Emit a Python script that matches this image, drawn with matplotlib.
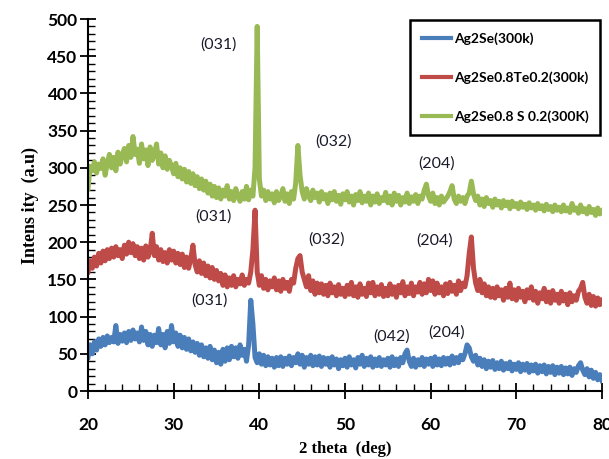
import numpy as np
import matplotlib
matplotlib.use("Agg")
import matplotlib.pyplot as plt
from matplotlib.ticker import MultipleLocator

# ---- data ----
two_theta_start = 20.0
two_theta_step = 0.25

green_vals = [
    272, 302, 296, 308, 293, 305, 299, 312, 290, 306, 318, 300, 314, 296, 321, 305, 318, 326, 308, 330,
    314, 342, 318, 325, 306, 332, 312, 324, 303, 328, 310, 318, 332, 305, 320, 300, 316, 298, 310, 302,
    292, 306, 288, 300, 285, 298, 281, 295, 279, 292, 276, 288, 272, 285, 270, 282, 266, 278, 262, 275,
    260, 273, 258, 270, 262, 276, 258, 268, 256, 272, 262, 255, 268, 258, 275, 257, 270, 262, 300, 490,
    285, 262, 270, 256, 268, 258, 265, 253, 268, 256, 262, 272, 255, 265, 252, 268, 258, 280, 330, 290,
    268, 258, 272, 262, 256, 270, 260, 266, 254, 268, 258, 264, 252, 266, 257, 268, 255, 263, 251, 265,
    257, 268, 254, 262, 250, 264, 256, 268, 253, 262, 255, 266, 250, 262, 254, 265, 252, 260, 256, 267,
    253, 262, 250, 266, 255, 263, 250, 260, 254, 266, 252, 261, 255, 264, 252, 262, 258, 270, 278, 262,
    255, 266, 252, 260, 250, 262, 254, 258, 262, 268, 276, 258, 252, 262, 255, 260, 252, 262, 266, 282,
    265, 256, 262, 250, 258, 248, 260, 252, 256, 247, 258, 250, 255, 246, 256, 249, 254, 245, 255, 248,
    252, 245, 254, 247, 251, 244, 253, 246, 250, 243, 252, 245, 249, 242, 251, 244, 248, 241, 250, 243,
    247, 241, 250, 242, 246, 240, 252, 243, 246, 239, 250, 241, 245, 238, 248, 240, 244, 236, 246, 238,
    242,
]

red_vals = [
    160, 175, 165, 180, 168, 185, 172, 188, 175, 190, 178, 192, 180, 194, 182, 190, 178, 196, 184, 200,
    186, 198, 182, 194, 178, 192, 176, 195, 180, 188, 212, 182, 194, 176, 190, 174, 186, 172, 190, 176,
    188, 172, 185, 170, 184, 166, 180, 165, 178, 196, 170, 160, 175, 158, 172, 155, 168, 152, 166, 150,
    162, 148, 158, 142, 156, 140, 152, 142, 155, 140, 150, 144, 156, 142, 150, 145, 160, 190, 243, 160,
    142, 155, 138, 150, 136, 148, 140, 152, 136, 148, 134, 150, 138, 146, 134, 150, 145, 165, 178, 182,
    160, 150, 140, 155, 135, 148, 130, 145, 132, 144, 130, 142, 128, 145, 132, 140, 128, 143, 130, 138,
    127, 142, 130, 146, 128, 140, 126, 144, 130, 138, 127, 145, 132, 146, 128, 140, 130, 143, 127, 138,
    128, 144, 130, 140, 126, 142, 132, 147, 128, 140, 131, 145, 128, 140, 133, 146, 130, 144, 132, 150,
    135, 148, 130, 145, 132, 140, 128, 144, 131, 146, 134, 142, 130, 148, 135, 145, 140, 155, 185, 207,
    165, 145, 135, 150, 132, 144, 128, 140, 126, 138, 125, 140, 128, 136, 122, 138, 126, 145, 124, 136,
    122, 138, 126, 134, 120, 136, 125, 140, 122, 134, 118, 132, 124, 138, 120, 133, 118, 135, 122, 130,
    118, 134, 121, 130, 116, 132, 120, 128, 122, 134, 138, 146, 126, 118, 130, 115, 127, 114, 125, 116,
    122,
]

blue_vals = [
    45, 62, 50, 66, 55, 70, 60, 72, 62, 74, 65, 72, 66, 88, 64, 76, 67, 78, 65, 80,
    68, 82, 70, 78, 66, 86, 68, 80, 62, 76, 60, 75, 65, 84, 62, 76, 58, 80, 64, 88,
    66, 78, 60, 75, 58, 72, 56, 70, 54, 66, 52, 64, 48, 62, 46, 58, 44, 60, 42, 55,
    38, 52, 36, 56, 40, 58, 42, 60, 46, 58, 44, 62, 48, 56, 40, 62, 122, 90, 45, 38,
    50, 36, 48, 34, 46, 35, 44, 32, 45, 34, 46, 33, 44, 36, 47, 34, 45, 38, 50, 36,
    48, 32, 45, 36, 48, 34, 46, 35, 47, 33, 45, 36, 44, 32, 46, 35, 43, 30, 42, 34,
    44, 32, 46, 35, 42, 31, 45, 36, 48, 33, 44, 35, 46, 32, 43, 34, 45, 33, 42, 35,
    44, 32, 46, 34, 43, 33, 45, 38, 50, 55, 40, 33, 44, 32, 42, 35, 45, 33, 43, 36,
    44, 33, 46, 35, 43, 34, 45, 36, 44, 35, 47, 37, 45, 38, 48, 42, 50, 62, 58, 46,
    40, 48, 35, 44, 33, 42, 30, 40, 32, 41, 29, 38, 30, 40, 28, 37, 30, 39, 27, 36,
    29, 38, 26, 36, 28, 37, 25, 35, 27, 36, 24, 34, 26, 35, 23, 33, 25, 34, 22, 32,
    24, 33, 22, 31, 23, 32, 21, 30, 25, 34, 38, 28, 22, 30, 19, 28, 17, 25, 15, 22,
    14,
]

labels = ["Ag2Se(300k)", "Ag2Se0.8Te0.2(300k)", "Ag2Se0.8 S 0.2(300K)"]
colors = ["#4A7EBB", "#BE4B48", "#98B954"]

# peak annotations: (text, x, y)
annotations = [
    ("(031)", 35.2, 465), ("(032)", 48.7, 335), ("(204)", 60.7, 306),
    ("(031)", 34.7, 234), ("(032)", 47.8, 203), ("(204)", 60.4, 202),
    ("(031)", 34.2, 122), ("(042)", 55.4, 73), ("(204)", 61.9, 79),
]

x_ticks = [20, 30, 40, 50, 60, 70, 80]
y_ticks = [0, 50, 100, 150, 200, 250, 300, 350, 400, 450, 500]

# ---- figure ----
fig = plt.figure(figsize=(6.09, 4.59), dpi=100)
ax = fig.add_axes([88 / 609, 1 - 391 / 459, (602 - 88) / 609, (391 - 19) / 459])

n = len(blue_vals)
x = two_theta_start + two_theta_step * np.arange(n)

for vals, lab, col in zip([blue_vals, red_vals, green_vals], labels, colors):
    ax.plot(x, vals, color=col, lw=3.6, label=lab, solid_joinstyle="round")

for txt, tx, ty in annotations:
    ax.text(tx, ty, txt, ha="center", va="center", fontsize=11.5,
            family=["Lato", "DejaVu Sans"], color="#1a1a2a")

ax.set_xlim(20, 80)
ax.set_ylim(0, 500)
ax.set_xticks(x_ticks)
ax.set_yticks(y_ticks)
ax.xaxis.set_minor_locator(MultipleLocator(2))
ax.yaxis.set_minor_locator(MultipleLocator(10))

for s in ["top", "right"]:
    ax.spines[s].set_visible(False)
for s in ["left", "bottom"]:
    ax.spines[s].set_linewidth(1.5)

ax.tick_params(axis="both", which="major", direction="inout", length=11, width=1.3)
ax.tick_params(axis="both", which="minor", direction="in", length=5, width=1.0)
ax.tick_params(axis="x", which="major", pad=13)
ax.tick_params(axis="y", which="major", pad=2)
for lbl in ax.get_xticklabels() + ax.get_yticklabels():
    lbl.set_fontfamily("Lato")
    lbl.set_fontweight("bold")
    lbl.set_fontsize(12.5)

ax.set_ylabel("Intens ity  (a.u)", family="Liberation Serif", fontweight="bold",
              fontsize=13, labelpad=6)
ax.set_xlabel("2 theta  (deg)", family="Liberation Serif", fontweight="bold",
              fontsize=12, labelpad=6)

leg = ax.legend(loc="upper right", bbox_to_anchor=(0.997, 0.997), fancybox=False,
                framealpha=1, edgecolor="black", handlelength=2.1, handletextpad=0.2,
                labelspacing=1.9, borderpad=0.85, borderaxespad=0.0,
                prop={"family": "Lato", "weight": "bold", "size": 10})
leg.get_frame().set_linewidth(1.8)
for h in leg.get_lines():
    h.set_linewidth(3)

fig.savefig("out.png", dpi=100)
